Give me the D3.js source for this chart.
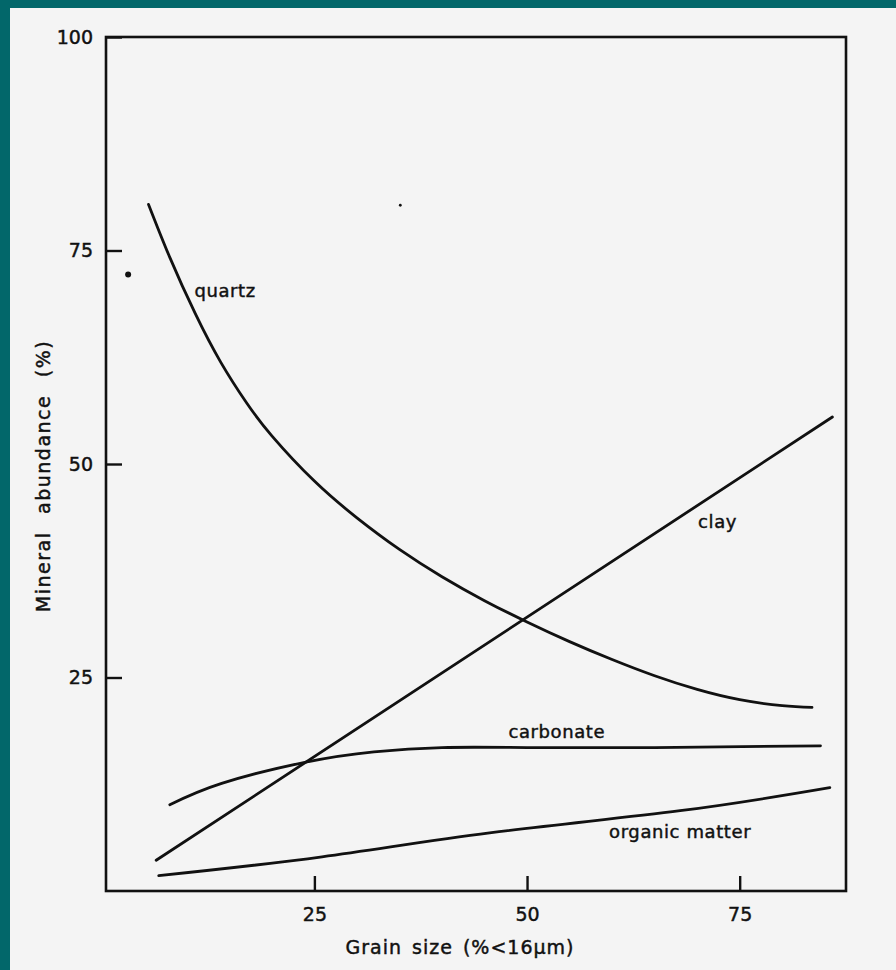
<!DOCTYPE html>
<html>
<head>
<meta charset="utf-8">
<script src="https://cdn.jsdelivr.net/npm/d3@7"></script>
<style>
  html, body { margin: 0; padding: 0; background: #f4f4f4; }
  svg { display: block; }
  text { font-family: "DejaVu Sans", sans-serif; fill: #111; stroke: #111; stroke-width: 0.45px; }
</style>
</head>
<body>
<div id="chart"></div>
<script>
// mineral abundance vs grain size
const quartz = [
  {x: 5.5, y: 80.4}, {x: 8, y: 74.2}, {x: 11, y: 67.6}, {x: 14, y: 61.9},
  {x: 17, y: 57.2}, {x: 20, y: 53.3}, {x: 25, y: 48.0}, {x: 30, y: 43.7},
  {x: 35, y: 40.0}, {x: 40, y: 36.8}, {x: 45, y: 34.0}, {x: 50, y: 31.5},
  {x: 55, y: 29.2}, {x: 60, y: 27.1}, {x: 65, y: 25.2}, {x: 70, y: 23.6},
  {x: 75, y: 22.4}, {x: 80, y: 21.7}, {x: 83.5, y: 21.5}
];
const clay = [
  {x: 6.4, y: 3.6}, {x: 85.9, y: 55.5}
];
const carbonate = [
  {x: 8.0, y: 10.1}, {x: 14.1, y: 12.6}, {x: 24.0, y: 15.1}, {x: 32.0, y: 16.3},
  {x: 40.0, y: 16.8}, {x: 50.0, y: 16.8}, {x: 65.0, y: 16.8}, {x: 84.5, y: 17.0}
];
const organic = [
  {x: 6.7, y: 1.8}, {x: 25.9, y: 4.0}, {x: 45.6, y: 6.8}, {x: 68.0, y: 9.4}, {x: 85.6, y: 12.1}
];
const curveLabels = [
  {name: 'quartz', x: 14.5, y: 70.3},
  {name: 'clay', x: 72.4, y: 43.2},
  {name: 'carbonate', x: 53.5, y: 18.6},
  {name: 'organic matter', x: 68.0, y: 7.0}
];
const specks = [
  {x: 3.1, y: 72.2, big: true},
  {x: 35.1, y: 80.3, big: false}
];
const xTicks = [25, 50, 75];
const yTicks = [25, 50, 75, 100];

const width = 896;
const height = 970;

const svg = d3.select('#chart').append('svg')
  .attr('width', width)
  .attr('height', height);

// scan background with the teal edge
svg.append('rect')
  .attr('width', width)
  .attr('height', height)
  .attr('fill', '#f4f4f4');
svg.append('rect')
  .attr('width', width)
  .attr('height', 8)
  .attr('fill', '#02676a');
svg.append('rect')
  .attr('width', 10)
  .attr('height', height)
  .attr('fill', '#02676a');

const xScale = d3.scaleLinear()
  .domain([0.5, 87.5])
  .range([106, 846]);

const yScale = d3.scaleLinear()
  .domain([0, 100])
  .range([891, 37]);

// frame
svg.append('rect')
  .attr('x', xScale(0.5))
  .attr('y', yScale(100))
  .attr('width', xScale(87.5) - xScale(0.5))
  .attr('height', yScale(0) - yScale(100))
  .attr('fill', 'none')
  .attr('stroke', '#111')
  .attr('stroke-width', 2.6);

// X axis, ticks point inwards
const xAxis = svg.append('g')
  .attr('transform', `translate(0,${yScale(0)})`)
  .call(d3.axisBottom(xScale)
    .tickValues(xTicks)
    .tickSizeInner(-15)
    .tickSizeOuter(0)
    .tickPadding(17));
xAxis.select('.domain').remove();
xAxis.selectAll('line').attr('stroke', '#111').attr('stroke-width', 2.4);
xAxis.selectAll('text')
  .attr('font-family', '"DejaVu Sans", sans-serif')
  .attr('font-size', '19px')
  .attr('fill', '#111');

// Y axis
const yAxis = svg.append('g')
  .attr('transform', `translate(${xScale(0.5)},0)`)
  .call(d3.axisLeft(yScale)
    .tickValues(yTicks)
    .tickSizeInner(-16)
    .tickSizeOuter(0)
    .tickPadding(13));
yAxis.select('.domain').remove();
yAxis.selectAll('line').attr('stroke', '#111').attr('stroke-width', 2.4);
yAxis.selectAll('text')
  .attr('font-family', '"DejaVu Sans", sans-serif')
  .attr('font-size', '19px')
  .attr('fill', '#111');

// curves
const line = d3.line()
  .x(d => xScale(d.x))
  .y(d => yScale(d.y))
  .curve(d3.curveNatural);

[quartz, clay, carbonate, organic].forEach(series => {
  svg.append('path')
    .datum(series)
    .attr('d', line)
    .attr('fill', 'none')
    .attr('stroke', '#111')
    .attr('stroke-width', 2.8)
    .attr('stroke-linecap', 'round');
});

svg.selectAll('.curve-label')
  .data(curveLabels)
  .enter().append('text')
  .attr('class', 'curve-label')
  .attr('x', d => xScale(d.x))
  .attr('y', d => yScale(d.y))
  .attr('text-anchor', 'middle')
  .attr('dy', '0.35em')
  .attr('font-size', '18px')
  .attr('letter-spacing', '0.6px')
  .text(d => d.name);

svg.selectAll('.speck')
  .data(specks)
  .enter().append('circle')
  .attr('class', 'speck')
  .attr('cx', d => xScale(d.x))
  .attr('cy', d => yScale(d.y))
  .attr('r', d => d.big ? 3 : 1.4)
  .attr('fill', '#111');

// axis titles
svg.append('text')
  .attr('x', 460)
  .attr('y', 947)
  .attr('text-anchor', 'middle')
  .attr('dy', '0.35em')
  .attr('font-size', '19px')
  .attr('letter-spacing', '1px')
  .attr('word-spacing', '3px')
  .text('Grain size (%<16\u03bcm)');

svg.append('text')
  .attr('transform', 'translate(43,476) rotate(-90)')
  .attr('text-anchor', 'middle')
  .attr('dy', '0.35em')
  .attr('font-size', '19px')
  .attr('letter-spacing', '1.5px')
  .attr('word-spacing', '10px')
  .text('Mineral abundance (%)');
</script>
</body>
</html>
